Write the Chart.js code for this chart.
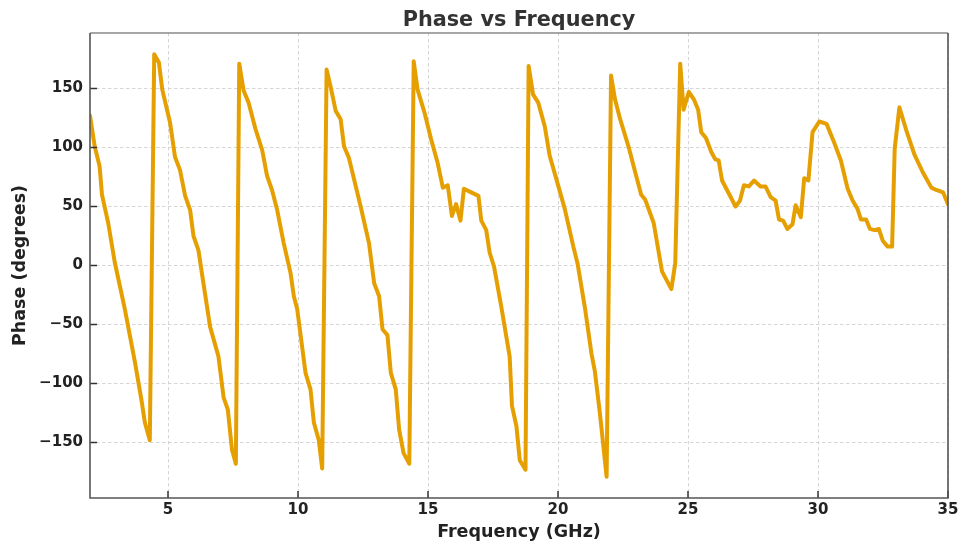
<!DOCTYPE html>
<html>
<head>
<meta charset="utf-8">
<script src="https://cdn.jsdelivr.net/npm/chart.js@4.4.1/dist/chart.umd.min.js"></script>
<style>
html,body{margin:0;padding:0;background:#fff;}
#wrap{width:959px;height:546px;position:relative;}
</style>
</head>
<body>
<div id="wrap"><canvas id="c" width="959" height="546"></canvas></div>
<script>
const TITLE = "Phase vs Frequency";
const X_LABEL = "Frequency (GHz)";
const Y_LABEL = "Phase (degrees)";
const X_TICKS = [5, 10, 15, 20, 25, 30, 35];
const Y_TICKS = [-150, -100, -50, 0, 50, 100, 150];

const freq = [2.0,2.18,2.37,2.46,2.7,2.95,3.34,3.73,3.98,4.11,4.3,4.47,4.65,4.78,5.08,5.27,5.46,5.66,5.85,5.98,6.17,6.3,6.62,6.94,7.14,7.3,7.46,7.61,7.74,7.91,8.1,8.36,8.62,8.81,9.0,9.2,9.45,9.71,9.84,9.97,10.29,10.48,10.61,10.8,10.93,11.1,11.25,11.45,11.64,11.77,11.96,12.41,12.73,12.93,13.12,13.25,13.44,13.57,13.76,13.89,14.06,14.28,14.45,14.6,14.86,15.12,15.37,15.57,15.76,15.92,16.08,16.25,16.38,16.66,16.94,17.05,17.24,17.37,17.54,17.82,18.14,18.23,18.4,18.53,18.75,18.87,19.04,19.24,19.49,19.68,19.94,20.26,20.59,20.75,21.03,21.29,21.42,21.61,21.87,22.04,22.19,22.39,22.71,22.97,23.2,23.35,23.68,24.0,24.36,24.51,24.7,24.83,25.03,25.22,25.39,25.51,25.69,25.9,26.05,26.18,26.31,26.5,26.83,27.0,27.15,27.34,27.54,27.79,27.98,28.18,28.37,28.5,28.66,28.82,29.02,29.14,29.34,29.47,29.63,29.79,30.05,30.33,30.59,30.88,31.14,31.33,31.52,31.65,31.85,32.0,32.17,32.34,32.49,32.68,32.85,32.95,33.13,33.39,33.71,34.03,34.36,34.55,34.81,35.0];
const phase = [127,101,84,60,36,3,-37,-82,-114,-133,-148,179,172,149,121,92,81,59,47,25,13,-6,-52,-77,-112,-122,-156,-168,171,148,138,116,98,76,64,47,19,-6,-26,-37,-91,-105,-133,-148,-172,166,152,131,124,101,91,50,19,-15,-26,-54,-59,-91,-105,-139,-159,-168,173,149,130,107,87,66,68,42,52,38,65,62,59,38,30,11,-1,-35,-77,-119,-136,-165,-173,169,145,138,118,93,73,48,16,2,-35,-75,-90,-125,-179,161,141,124,101,79,60,56,36,-5,-20,2,171,132,147,141,132,113,108,96,90,89,72,64,50,55,68,67,72,67,67,58,55,39,38,31,35,51,41,74,72,113,122,120,106,89,65,55,48,39,39,31,30,31,21,16,16,99,134,115,94,79,66,64,62,52];

const FONT = "'DejaVu Sans', 'Liberation Sans', sans-serif";
const points = freq.map((f, i) => ({x: f, y: phase[i]}));

const framePlugin = {
  id: 'frame',
  afterDatasetsDraw(chart) {
    const {ctx, chartArea: a, scales} = chart;
    ctx.save();
    ctx.strokeStyle = '#333';
    ctx.lineWidth = 1.5;
    ctx.beginPath();
    X_TICKS.forEach(v => {
      const px = scales.x.getPixelForValue(v);
      ctx.moveTo(px, a.bottom);
      ctx.lineTo(px, a.bottom - 7);
    });
    Y_TICKS.forEach(v => {
      const py = scales.y.getPixelForValue(v);
      ctx.moveTo(a.left, py);
      ctx.lineTo(a.left + 7, py);
    });
    ctx.stroke();
    ctx.lineWidth = 1.6;
    ctx.strokeStyle = '#888';
    ctx.beginPath();
    ctx.moveTo(a.left, a.top); ctx.lineTo(a.right, a.top);
    ctx.stroke();
    ctx.strokeStyle = '#555';
    ctx.beginPath();
    ctx.moveTo(a.right, a.top); ctx.lineTo(a.right, a.bottom);
    ctx.lineTo(a.left, a.bottom); ctx.lineTo(a.left, a.top);
    ctx.stroke();
    ctx.restore();
  },
  afterDraw(chart) {
    const {ctx, chartArea: a} = chart;
    ctx.save();
    ctx.fillStyle = '#333';
    ctx.font = "bold 20.8px " + FONT;
    ctx.textAlign = 'center';
    ctx.textBaseline = 'alphabetic';
    ctx.fillText(TITLE, (a.left + a.right) / 2, 25.5);
    ctx.restore();
  }
};

new Chart(document.getElementById('c'), {
  type: 'line',
  data: {
    datasets: [{
      data: points,
      borderColor: '#E69F00',
      backgroundColor: '#E69F00',
      borderWidth: 4,
      pointRadius: 0,
      tension: 0,
      borderJoinStyle: 'round',
      borderCapStyle: 'round',
      fill: false
    }]
  },
  options: {
    responsive: false,
    animation: false,
    layout: {padding: {top: 33, right: 11, left: 0, bottom: 0}},
    plugins: {legend: {display: false}, title: {display: false}, tooltip: {enabled: false}},
    scales: {
      x: {
        type: 'linear',
        min: 2, max: 35,
        afterBuildTicks: s => { s.ticks = X_TICKS.map(v => ({value: v})); },
        afterFit: s => { s.height = 48; s.paddingLeft = 0; s.paddingRight = 0; },
        grid: {color: '#cccccc', lineWidth: 0.8, drawTicks: false},
        border: {display: false, dash: [3.5, 2.5]},
        ticks: {padding: 3, color: '#222', font: {family: FONT, size: 15, weight: 'bold'}, maxRotation: 0,
                callback: v => String(v)},
        title: {display: true, text: X_LABEL, color: '#222', padding: {top: 0, bottom: 3.5},
                font: {family: FONT, size: 17.5, weight: 'bold'}}
      },
      y: {
        type: 'linear',
        min: -197, max: 197,
        afterBuildTicks: s => { s.ticks = Y_TICKS.map(v => ({value: v})); },
        afterFit: s => { s.width = 90; s.paddingTop = 0; s.paddingBottom = 0; },
        grid: {color: '#cccccc', lineWidth: 0.8, drawTicks: false},
        border: {display: false, dash: [3.5, 2.5]},
        ticks: {padding: 7, color: '#222', font: {family: FONT, size: 15, weight: 'bold'},
                callback: v => (v < 0 ? '\u2212' + Math.abs(v) : String(v))},
        title: {display: true, text: Y_LABEL, color: '#222', padding: {top: 10, bottom: 0},
                font: {family: FONT, size: 17.5, weight: 'bold'}}
      }
    }
  },
  plugins: [framePlugin]
});
</script>
</body>
</html>
